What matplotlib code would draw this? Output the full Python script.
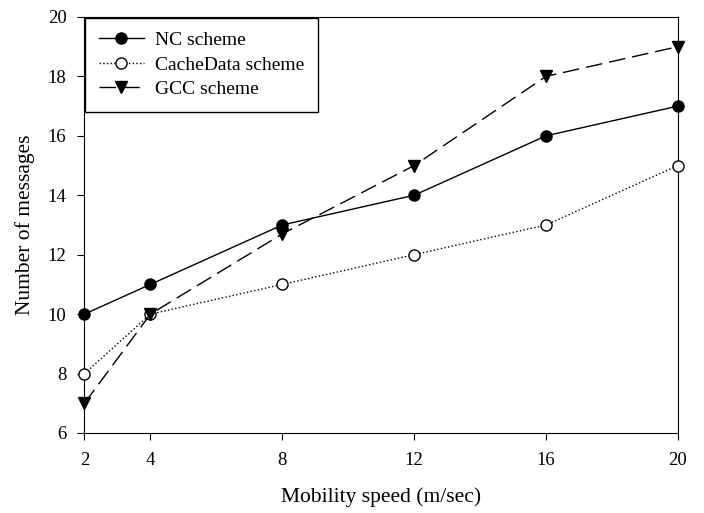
import numpy as np
import matplotlib.pyplot as plt

speed = [2, 4, 8, 12, 16, 20]
nc = [10, 11, 13, 14, 16, 17]
cachedata = [8, 10, 11, 12, 13, 15]
gcc = [7, 10, 12.7, 15, 18, 19]

plt.rcParams['font.family'] = 'Liberation Serif'

fig = plt.figure(figsize=(7.04, 5.13), dpi=100)
ax = fig.add_axes([0.12, 0.156, 0.843, 0.811])

ax.plot(speed, nc, '-', color='black', lw=1, marker='o', ms=8,
        markerfacecolor='black', label='NC scheme', clip_on=False, zorder=3)
ax.plot(speed, cachedata, ':', color='black', lw=1, marker='o', ms=8,
        markerfacecolor='white', label='CacheData scheme', clip_on=False, zorder=3)
ax.plot(speed, gcc, color='black', lw=1, marker='v', ms=8, dashes=(12, 5),
        markerfacecolor='black', label='GCC scheme', clip_on=False, zorder=3)

ax.set_xlim(2, 20)
ax.set_ylim(6, 20)
ax.set_xticks(speed)
ax.set_yticks(np.arange(6, 21, 2))
ax.tick_params(direction='out', labelsize=13.5, length=5, top=False, right=False)
ax.tick_params(axis='x', pad=8.5)
ax.tick_params(axis='y', pad=8)
ax.set_xlabel('Mobility speed (m/sec)', fontsize=15.5, labelpad=13)
ax.set_ylabel('Number of messages', fontsize=15.5, labelpad=9)

leg = ax.legend(loc='upper left', fontsize=14, fancybox=False, edgecolor='black',
                framealpha=1, borderaxespad=0.05, handlelength=2.3, borderpad=0.7,
                labelspacing=0.35, handletextpad=0.57)
leg.get_frame().set_linewidth(1)

fig.savefig('out.png', dpi=100)
